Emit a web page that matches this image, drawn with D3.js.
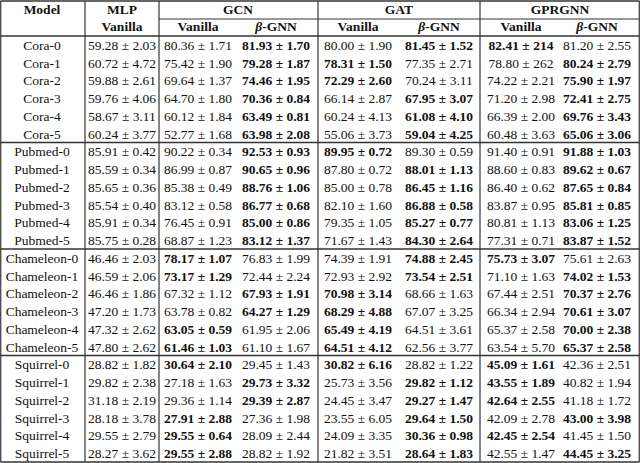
<!DOCTYPE html>
<html>
<head>
<meta charset="utf-8">
<script src="https://cdn.jsdelivr.net/npm/d3@7"></script>
<style>
  body { margin: 0; background: #fff; }
  text { font-family: "Liberation Serif", "DejaVu Serif", serif; fill: #111; }
</style>
</head>
<body>
<svg id="chart" width="640" height="463"></svg>
<script>
// row labels
var models = ["Cora-0","Cora-1","Cora-2","Cora-3","Cora-4","Cora-5",
  "Pubmed-0","Pubmed-1","Pubmed-2","Pubmed-3","Pubmed-4","Pubmed-5",
  "Chameleon-0","Chameleon-1","Chameleon-2","Chameleon-3","Chameleon-4","Chameleon-5",
  "Squirrel-0","Squirrel-1","Squirrel-2","Squirrel-3","Squirrel-4","Squirrel-5"];

var mlpVanilla = ["59.28 ± 2.03","60.72 ± 4.72","59.88 ± 2.61","59.76 ± 4.06","58.67 ± 3.11","60.24 ± 3.77",
  "85.91 ± 0.42","85.59 ± 0.34","85.65 ± 0.36","85.54 ± 0.40","85.91 ± 0.34","85.75 ± 0.28",
  "46.46 ± 2.03","46.59 ± 2.06","46.46 ± 1.86","47.20 ± 1.73","47.32 ± 2.62","47.80 ± 2.62",
  "28.82 ± 1.82","29.82 ± 2.38","31.18 ± 2.19","28.18 ± 3.78","29.55 ± 2.79","28.27 ± 3.62"];
var gcnVanilla = ["80.36 ± 1.71","75.42 ± 1.90","69.64 ± 1.37","64.70 ± 1.80","60.12 ± 1.84","52.77 ± 1.68",
  "90.22 ± 0.34","86.99 ± 0.87","85.38 ± 0.49","83.12 ± 0.58","76.45 ± 0.91","68.87 ± 1.23",
  "78.17 ± 1.07","73.17 ± 1.29","67.32 ± 1.12","63.78 ± 0.82","63.05 ± 0.59","61.46 ± 1.03",
  "30.64 ± 2.10","27.18 ± 1.63","29.36 ± 1.14","27.91 ± 2.88","29.55 ± 0.64","29.55 ± 2.88"];
var gcnBeta = ["81.93 ± 1.70","79.28 ± 1.87","74.46 ± 1.95","70.36 ± 0.84","63.49 ± 0.81","63.98 ± 2.08",
  "92.53 ± 0.93","90.65 ± 0.96","88.76 ± 1.06","86.77 ± 0.68","85.00 ± 0.86","83.12 ± 1.37",
  "76.83 ± 1.99","72.44 ± 2.24","67.93 ± 1.91","64.27 ± 1.29","61.95 ± 2.06","61.10 ± 1.67",
  "29.45 ± 1.43","29.73 ± 3.32","29.39 ± 2.87","27.36 ± 1.98","28.09 ± 2.44","28.82 ± 1.92"];
var gatVanilla = ["80.00 ± 1.90","78.31 ± 1.50","72.29 ± 2.60","66.14 ± 2.87","60.24 ± 4.13","55.06 ± 3.73",
  "89.95 ± 0.72","87.80 ± 0.72","85.00 ± 0.78","82.10 ± 1.60","79.35 ± 1.05","71.67 ± 1.43",
  "74.39 ± 1.91","72.93 ± 2.92","70.98 ± 3.14","68.29 ± 4.88","65.49 ± 4.19","64.51 ± 4.12",
  "30.82 ± 6.16","25.73 ± 3.56","24.45 ± 3.47","23.55 ± 6.05","24.09 ± 3.35","21.82 ± 3.51"];
var gatBeta = ["81.45 ± 1.52","77.35 ± 2.71","70.24 ± 3.11","67.95 ± 3.07","61.08 ± 4.10","59.04 ± 4.25",
  "89.30 ± 0.59","88.01 ± 1.13","86.45 ± 1.16","86.88 ± 0.58","85.27 ± 0.77","84.30 ± 2.64",
  "74.88 ± 2.45","73.54 ± 2.51","68.66 ± 1.63","67.07 ± 3.25","64.51 ± 3.61","62.56 ± 3.77",
  "28.82 ± 1.22","29.82 ± 1.12","29.27 ± 1.47","29.64 ± 1.50","30.36 ± 0.98","28.64 ± 1.83"];
var gprVanilla = ["82.41 ± 214","78.80 ± 262","74.22 ± 2.21","71.20 ± 2.98","66.39 ± 2.00","60.48 ± 3.63",
  "91.40 ± 0.91","88.60 ± 0.83","86.40 ± 0.62","83.87 ± 0.95","80.81 ± 1.13","77.31 ± 0.71",
  "75.73 ± 3.07","71.10 ± 1.63","67.44 ± 2.51","66.34 ± 2.94","65.37 ± 2.58","63.54 ± 5.70",
  "45.09 ± 1.61","43.55 ± 1.89","42.64 ± 2.55","42.09 ± 2.78","42.45 ± 2.54","42.55 ± 1.47"];
var gprBeta = ["81.20 ± 2.55","80.24 ± 2.79","75.90 ± 1.97","72.41 ± 2.75","69.76 ± 3.43","65.06 ± 3.06",
  "91.88 ± 1.03","89.62 ± 0.67","87.65 ± 0.84","85.81 ± 0.85","83.06 ± 1.25","83.87 ± 1.52",
  "75.61 ± 2.63","74.02 ± 1.53","70.37 ± 2.76","70.61 ± 3.07","70.00 ± 2.38","65.37 ± 2.58",
  "42.36 ± 2.51","40.82 ± 1.94","41.18 ± 1.72","43.00 ± 3.98","41.45 ± 1.50","44.45 ± 3.25"];

// which entry wins in each pair (1 = vanilla bold, 2 = beta bold)
var gcnBest = [2,2,2,2,2,2, 2,2,2,2,2,2, 1,1,2,2,1,1, 1,2,2,1,1,1];
var gatBest = [2,1,1,2,2,2, 1,2,2,2,2,2, 2,2,1,1,1,1, 1,2,2,2,2,2];
var gprBest = [1,2,2,2,2,2, 2,2,2,2,2,2, 1,2,2,2,2,2, 1,1,1,2,1,2];

var groups = ["MLP", "GCN", "GAT", "GPRGNN"];

var svg = d3.select("#chart");
var headerH = 36, bottom = 462;

var y = d3.scaleLinear().domain([0, models.length]).range([headerH, bottom]);

// column centers
var columns = [
  {vals: models, cx: 42, best: null},
  {vals: mlpVanilla, cx: 122, best: null},
  {vals: gcnVanilla, cx: 198, best: gcnBest, me: 1},
  {vals: gcnBeta, cx: 276, best: gcnBest, me: 2},
  {vals: gatVanilla, cx: 358, best: gatBest, me: 1},
  {vals: gatBeta, cx: 439, best: gatBest, me: 2},
  {vals: gprVanilla, cx: 521, best: gprBest, me: 1},
  {vals: gprBeta, cx: 597, best: gprBest, me: 2}
];

columns.forEach(function(col) {
  svg.append("g").selectAll("text")
    .data(col.vals)
    .join("text")
    .attr("x", col.cx)
    .attr("y", (d, i) => y(i + 0.5) + 5)
    .attr("text-anchor", "middle")
    .attr("font-size", 13.5)
    .attr("font-weight", (d, i) => col.best && col.best[i] === col.me ? "bold" : "normal")
    .text(d => d);
});

// header
var hdr = svg.append("g").attr("font-weight", "bold").attr("font-size", 13.5);
hdr.append("text").attr("x", 42).attr("y", 14).attr("text-anchor", "middle").text("Model");
var groupCx = [122, 238, 399, 560];
groups.forEach(function(g, i) {
  hdr.append("text").attr("x", groupCx[i]).attr("y", 14).attr("text-anchor", "middle").text(g);
});
var subs = [{x: 122, t: "Vanilla"}, {x: 198, t: "Vanilla"}, {x: 276, t: "β-GNN"},
  {x: 358, t: "Vanilla"}, {x: 439, t: "β-GNN"}, {x: 521, t: "Vanilla"}, {x: 597, t: "β-GNN"}];
subs.forEach(function(s) {
  var t = hdr.append("text").attr("x", s.x).attr("y", 31).attr("text-anchor", "middle");
  if (s.t === "β-GNN") {
    t.append("tspan").attr("font-style", "italic").text("β");
    t.append("tspan").text("-GNN");
  } else t.text(s.t);
});

// rules
var stroke = "#333";
function line(x1, y1, x2, y2, w) {
  svg.append("line").attr("x1", x1).attr("y1", y1).attr("x2", x2).attr("y2", y2)
    .attr("stroke", stroke).attr("stroke-width", w || 1.2);
}
line(0.5, 1, 639.5, 1, 1.5);
line(159, 19, 639.5, 19, 1);
line(0.5, headerH, 639.5, headerH, 1.5);
[6, 12, 18].forEach(i => line(0.5, y(i), 639.5, y(i), 1.5));
line(0.5, bottom, 639.5, bottom, 1.5);
[0.75, 85, 159, 318, 480, 639.25].forEach(x => line(x, 1, x, bottom, 1.2));
</script>
</body>
</html>
